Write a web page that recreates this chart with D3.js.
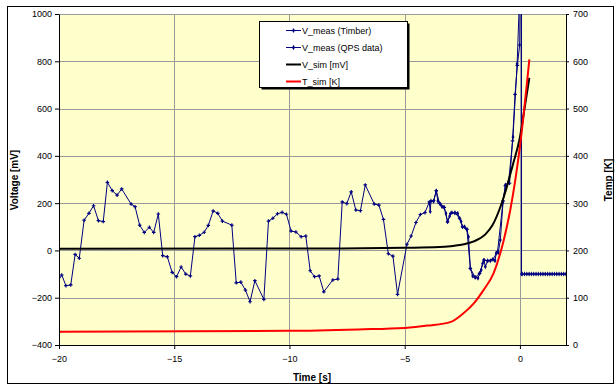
<!DOCTYPE html>
<html>
<head>
<meta charset="UTF-8">
<title>V_meas / V_sim / T_sim</title>
<style>
  body { margin: 0; background: #fff; }
  svg { display: block; font-family: "Liberation Sans", Arial, sans-serif; }
</style>
</head>
<body>
<svg id="chart" width="616" height="384"></svg>
<script src="https://d3js.org/d3.v7.min.js"></script>
<script>
// Timber measurement (time [s], voltage [mV])
const timberT = [-20, -19.88, -19.7, -19.49, -19.3, -19.12, -18.91, -18.7, -18.5, -18.29, -18.08, -17.9, -17.69, -17.48, -17.28,
  -16.87, -16.7, -16.5, -16.3, -16.08, -15.89, -15.69, -15.5, -15.3, -15.09, -14.9, -14.7, -14.5, -14.3, -14.1, -13.91, -13.7,
  -13.52, -13.31, -13.11, -12.91, -12.5, -12.31, -12.11, -11.91, -11.71, -11.5, -11.11, -10.91, -10.72, -10.52, -10.32, -10.13,
  -9.93, -9.72, -9.49, -9.29, -9.1, -8.91, -8.71, -8.51, -8.12, -7.9, -7.71, -7.51, -7.32, -7.12, -6.92, -6.71, -6.32, -6.12,
  -5.92, -5.71, -5.51, -5.31, -4.9, -4.72, -4.51, -4.32, -4.12, -3.93, -3.74, -3.63, -3.49, -3.28, -3.14, -3.0, -2.82, -2.62,
  -2.49, -2.3, -2.15, -1.94, -1.75, -1.56, -1.4, -1.17, -0.97, -0.73, -0.63, -0.45, -0.32, -0.21, -0.11, -0.01, 0.02];
const timberV = [-115, -104, -149, -146, -17, -33, 128, 157, 189, 126, 122, 288, 253, 234, 260,
  196, 185, 107, 76, 98, 76, 154, -22, -27, -93, -111, -70, -100, -108, 58, 64, 77,
  106, 167, 157, 124, 107, -137, -134, -168, -217, -128, -207, 124, 136, 155, 161, 153,
  82, 78, 58, 61, -86, -111, -108, -175, -125, -121, 205, 198, 248, 171, 168, 277, 196, 192,
  131, -14, -24, -186, 26, 61, 118, 152, 160, 205, 210, 253, 199, 182, 121, 157, 160, 136,
  100, 89, -76, -114, -97, -41, -44, -38, -5, 210, 274, 284, 463, 660, 783, 869, 1200];

// QPS data (time [s], voltage [mV])
const qpsT = [-3.93, -3.89, -3.86, -3.75, -3.63, -3.56, -3.45, -3.38, -3.3, -3.21, -3.14, -3.05, -2.95, -2.82, -2.7, -2.62,
  -2.55, -2.49, -2.4, -2.3, -2.23, -2.15, -2.05, -1.94, -1.82, -1.75, -1.68, -1.62, -1.56, -1.5, -1.4, -1.28, -1.17, -1.08,
  -1.03, -0.94, -0.85, -0.73, -0.63, -0.49, -0.3, -0.12, 0.03, 0.07, 0.07,
  0.1, 0.2, 0.3, 0.4, 0.5, 0.6, 0.7, 0.8, 0.9, 1.0, 1.1, 1.2, 1.3, 1.4, 1.5, 1.6, 1.7, 1.8, 1.9, 2.0];
const qpsV = [200, 164, 209, 208, 250, 209, 195, 185, 183, 157, 121, 145, 160, 158, 157, 136,
  122, 100, 100, 89, 58, -76, -108, -114, -118, -97, -83, -55, -41, -69, -44, -44, -38, -44,
  -12, -10, 44, 206, 277, 290, 480, 790, 1200, 1200, -100,
  -100, -100, -100, -100, -100, -100, -100, -100, -100, -100, -100, -100, -100, -100, -100, -100, -100, -100, -100, -100];

// simulated voltage [mV]
const simT = [-20, -8, -5, -3.5, -3, -2.5, -2, -1.5, -1.2, -0.9, -0.6, -0.3, 0, 0.2, 0.41];
const simV = [7, 8, 11, 14, 18, 25, 38, 68, 105, 170, 258, 365, 478, 600, 730];

// simulated temperature [K] (right axis)
const tempT = [-20, -10, -7, -5, -4, -3, -2.5, -2, -1.58, -1.14, -0.71, -0.42, 0.02, 0.41];
const tempK = [28, 30, 33, 36, 41, 49, 65, 88, 116, 152, 220, 285, 427, 604];

const xTicks = [-20, -15, -10, -5, 0];
const yTicks = [-400, -200, 0, 200, 400, 600, 800, 1000];
const y2Ticks = [0, 100, 200, 300, 400, 500, 600, 700];

const svg = d3.select("#chart");
const plot = { left: 59, top: 14, right: 566, bottom: 345 };

// outer chart frame
svg.append("rect").attr("x", 7.5).attr("y", 6.5).attr("width", 606).attr("height", 377)
  .attr("fill", "#fff").attr("stroke", "#000");

const x = d3.scaleLinear().domain([-20, 2]).range([plot.left, plot.right]);
const y = d3.scaleLinear().domain([-400, 1000]).range([plot.bottom, plot.top]);
const y2 = d3.scaleLinear().domain([0, 700]).range([plot.bottom, plot.top]);

svg.append("rect").attr("x", plot.left).attr("y", plot.top)
  .attr("width", plot.right - plot.left).attr("height", plot.bottom - plot.top)
  .attr("fill", "#FFFFCC");

svg.append("clipPath").attr("id", "clip").append("rect")
  .attr("x", plot.left).attr("y", plot.top)
  .attr("width", plot.right - plot.left).attr("height", plot.bottom - plot.top);

// grid
const grid = svg.append("g").attr("stroke", "#9a9a9a").attr("stroke-width", 1);
yTicks.forEach(v => grid.append("line")
  .attr("x1", plot.left).attr("x2", plot.right)
  .attr("y1", Math.round(y(v)) + 0.5).attr("y2", Math.round(y(v)) + 0.5));
xTicks.forEach(v => grid.append("line")
  .attr("x1", Math.round(x(v)) + 0.5).attr("x2", Math.round(x(v)) + 0.5)
  .attr("y1", plot.top).attr("y2", plot.bottom));

// series
const g = svg.append("g").attr("clip-path", "url(#clip)");
const pts = (ts, vs) => ts.map((t, i) => [t, vs[i]]);

const line = d3.line().x(d => x(d[0])).y(d => y(d[1]));
const line2 = d3.line().x(d => x(d[0])).y(d => y2(d[1])).curve(d3.curveMonotoneX);
const lineSim = d3.line().x(d => x(d[0])).y(d => y(d[1])).curve(d3.curveMonotoneX);

const timber = pts(timberT, timberV);
const qps = pts(qpsT, qpsV);

g.append("path").datum(timber).attr("d", line)
  .attr("fill", "none").attr("stroke", "#000080").attr("stroke-width", 1);
g.selectAll(".mt").data(timber).join("path").attr("class", "mt")
  .attr("transform", d => `translate(${x(d[0])},${y(d[1])})`)
  .attr("d", d3.symbol(d3.symbolCross, 7)).attr("fill", "#000080");

g.append("path").datum(qps).attr("d", line)
  .attr("fill", "none").attr("stroke", "#000080").attr("stroke-width", 1);
g.selectAll(".mq").data(qps).join("path").attr("class", "mq")
  .attr("transform", d => `translate(${x(d[0])},${y(d[1])})`)
  .attr("d", d3.symbol(d3.symbolDiamond, 7)).attr("fill", "#000080");

g.append("path").datum(pts(simT, simV)).attr("d", lineSim)
  .attr("fill", "none").attr("stroke", "#000").attr("stroke-width", 2);

g.append("path").datum(pts(tempT, tempK)).attr("d", line2)
  .attr("fill", "none").attr("stroke", "#FF0000").attr("stroke-width", 2);

// axes
const styleAxis = sel => {
  sel.selectAll("text").attr("font-size", 9).attr("fill", "#000")
    .attr("font-family", "'Liberation Sans', Arial, sans-serif");
  sel.selectAll("line,path").attr("stroke", "#000");
};
const fmt = d3.format("d");

svg.append("g").attr("transform", `translate(${plot.left},0)`)
  .call(d3.axisLeft(y).tickValues(yTicks).tickFormat(fmt).tickSize(4).tickPadding(3).tickSizeOuter(0))
  .call(styleAxis);

svg.append("g").attr("transform", `translate(${plot.right},0)`)
  .call(d3.axisRight(y2).tickValues(y2Ticks).tickFormat(fmt).tickSize(3).tickPadding(4).tickSizeOuter(0))
  .call(styleAxis);

svg.append("g").attr("transform", `translate(0,${plot.bottom})`)
  .call(d3.axisBottom(x).tickValues(xTicks).tickFormat(fmt).tickSize(4).tickPadding(7).tickSizeOuter(0))
  .call(styleAxis);

// axis titles
svg.append("text").attr("x", 312).attr("y", 381).attr("text-anchor", "middle")
  .attr("font-size", 10).attr("font-weight", "bold").text("Time [s]");
svg.append("text").attr("transform", "translate(18,180) rotate(-90)").attr("text-anchor", "middle")
  .attr("font-size", 10).attr("font-weight", "bold").text("Voltage [mV]");
svg.append("text").attr("transform", "translate(612,180) rotate(-90)").attr("text-anchor", "middle")
  .attr("font-size", 10).attr("font-weight", "bold").text("Temp [K]");

// legend
const legendItems = [
  { name: "V_meas (Timber)", color: "#000080", w: 1, sym: d3.symbolCross },
  { name: "V_meas (QPS data)", color: "#000080", w: 1, sym: d3.symbolDiamond },
  { name: "V_sim [mV]", color: "#000", w: 2, sym: null },
  { name: "T_sim [K]", color: "#FF0000", w: 2, sym: null }
];
const lg = svg.append("g");
lg.append("rect").attr("x", 261.5).attr("y", 23.5).attr("width", 148).attr("height", 66).attr("fill", "#000");
lg.append("rect").attr("x", 259.5).attr("y", 21.5).attr("width", 148).attr("height", 66)
  .attr("fill", "#fff").attr("stroke", "#000");
legendItems.forEach((d, i) => {
  const yy = 30.5 + i * 17;
  lg.append("line").attr("x1", 286).attr("x2", 301).attr("y1", yy).attr("y2", yy)
    .attr("stroke", d.color).attr("stroke-width", d.w);
  if (d.sym) lg.append("path").attr("transform", `translate(293.5,${yy})`)
    .attr("d", d3.symbol(d.sym, 8)).attr("fill", d.color);
  lg.append("text").attr("x", 302).attr("y", yy + 3.5).attr("font-size", 9).text(d.name);
});
</script>
</body>
</html>
